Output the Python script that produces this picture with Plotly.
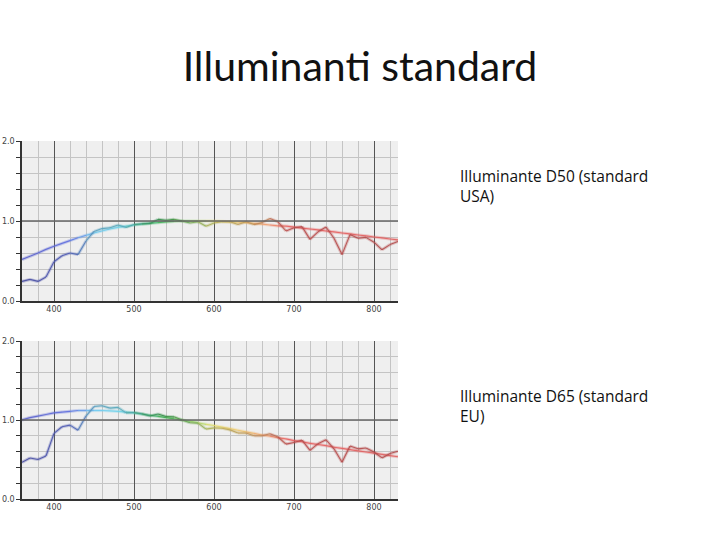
import plotly.graph_objects as go
from plotly.subplots import make_subplots

# wavelengths (nm) and relative spectral power
wavelength = [360, 370, 380, 390, 400, 410, 420, 430, 440, 450, 460, 470, 480, 490,
              500, 510, 520, 530, 540, 550, 560, 570, 580, 590, 600, 610, 620, 630,
              640, 650, 660, 670, 680, 690, 700, 710, 720, 730, 740, 750, 760, 770,
              780, 790, 800, 810, 820, 830]

d50 = [0.245, 0.27, 0.245, 0.30, 0.49, 0.565, 0.60, 0.58, 0.75, 0.87, 0.905, 0.915,
       0.95, 0.92, 0.955, 0.965, 0.97, 1.02, 1.01, 1.02, 1.0, 0.975, 0.99, 0.935,
       0.975, 0.99, 0.99, 0.955, 0.99, 0.955, 0.98, 1.03, 0.99, 0.875, 0.915, 0.93,
       0.77, 0.865, 0.925, 0.785, 0.58, 0.83, 0.785, 0.795, 0.735, 0.64, 0.705, 0.745]
d50_ref = [0.52, 0.56, 0.60, 0.645, 0.685, 0.72, 0.755, 0.79, 0.82, 0.85, 0.875, 0.90,
           0.92, 0.935, 0.95, 0.96, 0.97, 0.98, 0.99, 0.995, 1.0, 1.0, 1.0, 1.0, 1.0,
           0.995, 0.99, 0.985, 0.98, 0.97, 0.96, 0.95, 0.94, 0.935, 0.925, 0.91, 0.90,
           0.89, 0.875, 0.865, 0.85, 0.84, 0.825, 0.815, 0.80, 0.79, 0.775, 0.765]

d65 = [0.465, 0.52, 0.50, 0.545, 0.83, 0.915, 0.935, 0.87, 1.05, 1.17, 1.18, 1.15,
       1.16, 1.09, 1.095, 1.08, 1.05, 1.075, 1.045, 1.04, 1.0, 0.965, 0.96, 0.885,
       0.90, 0.895, 0.875, 0.835, 0.835, 0.80, 0.80, 0.825, 0.785, 0.695, 0.715,
       0.745, 0.615, 0.70, 0.75, 0.635, 0.465, 0.67, 0.635, 0.645, 0.595, 0.52,
       0.575, 0.605]
d65_ref = [1.0, 1.03, 1.05, 1.07, 1.09, 1.10, 1.11, 1.12, 1.12, 1.12, 1.12, 1.115,
           1.11, 1.10, 1.09, 1.075, 1.06, 1.045, 1.03, 1.015, 1.0, 0.985, 0.965, 0.945,
           0.93, 0.91, 0.89, 0.87, 0.85, 0.83, 0.81, 0.795, 0.775, 0.76, 0.74, 0.725,
           0.705, 0.69, 0.675, 0.655, 0.64, 0.625, 0.61, 0.595, 0.58, 0.565, 0.55, 0.535]

labels = ["Illuminante D50 (standard<br>USA)", "Illuminante D65 (standard<br>EU)"]

# spectrum colour stops used to tint the line segments
stops = [(360, (90, 95, 200)), (420, (96, 112, 224)), (450, (112, 200, 240)),
         (490, (112, 216, 232)), (510, (80, 192, 144)), (540, (64, 176, 80)),
         (570, (144, 216, 112)), (600, (232, 224, 112)), (640, (240, 192, 112)),
         (665, (240, 160, 112)), (690, (232, 96, 96)), (830, (224, 96, 96))]


def spectrum_color(w, dark=1.0, alpha=1.0):
    for (w0, c0), (w1, c1) in zip(stops[:-1], stops[1:]):
        if w0 <= w <= w1:
            t = (w - w0) / (w1 - w0)
            c = [int((a + (b - a) * t) * dark) for a, b in zip(c0, c1)]
            return f"rgba({c[0]},{c[1]},{c[2]},{alpha})"
    return f"rgba(224,96,96,{alpha})"


fig = make_subplots(rows=2, cols=1, vertical_spacing=0.0)


def add_curve(xs, ys, row, dark, width):
    for i in range(len(xs) - 1):
        wm = (xs[i] + xs[i + 1]) / 2
        seg_x = xs[i:i + 2]
        seg_y = ys[i:i + 2]
        # soft halo
        fig.add_trace(go.Scatter(x=seg_x, y=seg_y, mode="lines",
                                 line=dict(color=spectrum_color(wm, dark, 0.3), width=width + 2),
                                 hoverinfo="skip", showlegend=False), row=row, col=1)
        fig.add_trace(go.Scatter(x=seg_x, y=seg_y, mode="lines",
                                 line=dict(color=spectrum_color(wm, dark, 0.9), width=width),
                                 hoverinfo="skip", showlegend=False), row=row, col=1)


add_curve(wavelength, d50_ref, 1, 1.0, 1.2)
add_curve(wavelength, d50, 1, 0.8, 1.1)
add_curve(wavelength, d65_ref, 2, 1.0, 1.2)
add_curve(wavelength, d65, 2, 0.8, 1.1)

tick_font = dict(family="DejaVu Sans", size=8, color="#444")

xaxis_style = dict(
    range=[360, 830],
    tickvals=[400, 500, 600, 700, 800],
    showgrid=True, gridcolor="#555", gridwidth=1,
    minor=dict(dtick=20, tick0=360, showgrid=True, gridcolor="#c4c4c4", gridwidth=1),
    showline=True, linecolor="#333", linewidth=1.5,
    ticks="", tickfont=tick_font, zeroline=False, automargin=False,
)
yaxis_style = dict(
    range=[0, 2.0],
    tickvals=[0, 1, 2], ticktext=["0.0", "1.0", "2.0"],
    showgrid=False,
    minor=dict(dtick=0.2, tick0=0, showgrid=True, gridcolor="#c4c4c4", gridwidth=1,
               ticks="outside", ticklen=4, tickcolor="#333"),
    ticks="outside", ticklen=4, tickcolor="#333",
    showline=True, linecolor="#333", linewidth=1.5,
    tickfont=tick_font, zeroline=False, automargin=False,
)

fig.update_xaxes(**xaxis_style)
fig.update_yaxes(**yaxis_style)

fig.update_layout(
    width=720, height=540,
    margin=dict(l=0, r=0, t=0, b=0),
    paper_bgcolor="white",
    plot_bgcolor="#efefef",
    showlegend=False,
    xaxis=dict(domain=[22 / 720, 398 / 720], anchor="y"),
    yaxis=dict(domain=[239 / 540, 399 / 540]),
    xaxis2=dict(domain=[22 / 720, 398 / 720], anchor="y2"),
    yaxis2=dict(domain=[41 / 540, 199 / 540]),
    title=dict(text="Illuminanti standard", x=0.5, xanchor="center",
               y=1 - 67 / 540, yanchor="middle", automargin=False,
               font=dict(family="Lato", size=41, color="#111")),
)

# dark reference line at 1.0 in each panel
for r in (1, 2):
    fig.add_hline(y=1.0, line=dict(color="#666", width=1.5), row=r, col=1)

for text, ytop in zip(labels, [163, 383]):
    fig.add_annotation(text=text, xref="paper", yref="paper",
                       x=458 / 720, y=1 - ytop / 540, xanchor="left", yanchor="top",
                       align="left", showarrow=False,
                       font=dict(family="Open Sans", size=15.5, color="#111"))

# the browser's default 8px body margin would shift the whole figure
fig.write_html("out.html", config={"displayModeBar": False},
               post_script="document.body.style.margin='0';")
